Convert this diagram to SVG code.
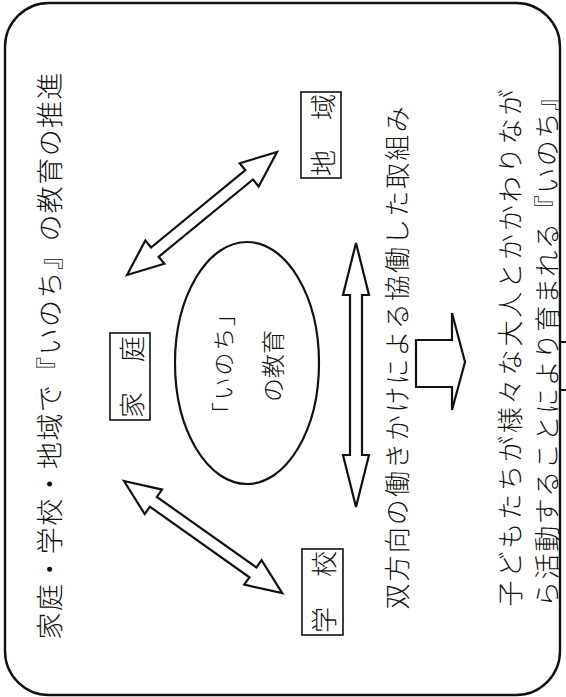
<svg xmlns="http://www.w3.org/2000/svg" width="566" height="697" viewBox="0 0 566 697">
<defs>
<style>
.t{font-family:"Noto Sans CJK JP","Noto Sans CJK SC",sans-serif;font-weight:300;fill:#111;text-anchor:middle;dominant-baseline:central;}
.box{fill:#fff;stroke:#111;stroke-width:1.6;}
.arr{fill:#fff;stroke:#111;stroke-width:2.2;stroke-linejoin:miter;}
</style>
</defs>
<rect width="566" height="697" fill="#fff"/>
<g id="frame">
<rect x="5" y="3" width="555" height="692" rx="44" ry="44" fill="none" stroke="#111" stroke-width="2.4"/>
<line x1="560" y1="342" x2="566" y2="342" stroke="#111" stroke-width="2"/>
<line x1="560" y1="390" x2="566" y2="390" stroke="#111" stroke-width="2"/>
</g>
<g id="title">
<text class="t" font-size="27" transform="translate(48,356) rotate(-90)" textLength="567" lengthAdjust="spacing">家庭・学校・地域で『いのち』の教育の推進</text>
</g>
<g id="connectors">
<path class="arr" transform="translate(127,275) rotate(-39.35)" d="M0,0 L36,-15 L36,-6 L158,-6 L158,-15 L194,0 L158,15 L158,6 L36,6 L36,15 Z"/>
<path class="arr" transform="translate(124,481) rotate(35.33)" d="M0,0 L36,-15 L36,-6 L158,-6 L158,-15 L194,0 L158,15 L158,6 L36,6 L36,15 Z"/>
<path class="arr" d="M356,243 L369,295 L362,295 L362,455 L369,455 L356,507 L343,455 L350,455 L350,295 L343,295 Z"/>
<path class="arr" d="M416,340 L452,340 L452,313 L465,362 L452,410 L452,387 L416,387 Z"/>
</g>
<g id="node-inochi">
<ellipse cx="247" cy="363" rx="72" ry="121" fill="#fff" stroke="#111" stroke-width="2.2"/>
<text class="t" font-size="23" transform="translate(222,364) rotate(-90)" textLength="122" lengthAdjust="spacing">「いのち」</text>
<text class="t" font-size="24" transform="translate(271,366) rotate(-90)">の教育</text>
</g>
<g id="node-katei">
<rect class="box" x="110" y="333" width="40" height="87"/>
<text class="t" font-size="26" transform="translate(130,377) rotate(-90)" textLength="82" lengthAdjust="spacing">家　庭</text>
</g>
<g id="node-chiiki">
<rect class="box" x="301" y="92" width="40" height="86"/>
<text class="t" font-size="26" transform="translate(321,135) rotate(-90)" textLength="82" lengthAdjust="spacing">地　域</text>
</g>
<g id="node-gakkou">
<rect class="box" x="302" y="549" width="41" height="86"/>
<text class="t" font-size="26" transform="translate(322,592) rotate(-90)" textLength="82" lengthAdjust="spacing">学　校</text>
</g>
<g id="labels">
<text class="t" font-size="26" transform="translate(395,358) rotate(-90)" textLength="503" lengthAdjust="spacing">双方向の働きかけによる協働した取組み</text>
<text class="t" font-size="26" transform="translate(508,348) rotate(-90)" textLength="517" lengthAdjust="spacing">子どもたちが様々な大人とかかわりなが</text>
<text class="t" font-size="26" transform="translate(545,346) rotate(-90)" textLength="522" lengthAdjust="spacing">ら活動することにより育まれる『いのち』</text>
</g>
</svg>
